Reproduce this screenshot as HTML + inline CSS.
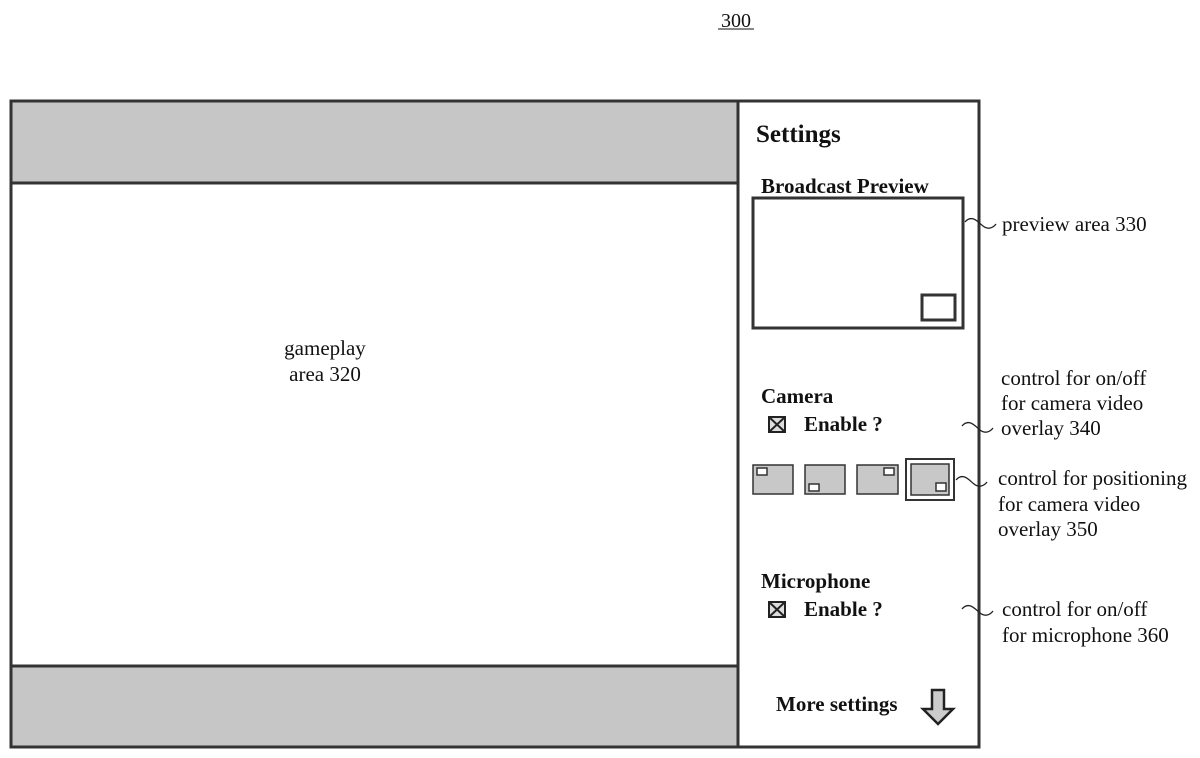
<!DOCTYPE html>
<html><head><meta charset="utf-8"><style>
html,body{margin:0;padding:0;background:#fff;}
svg{display:block;}
text{font-family:"Liberation Serif",serif;fill:#111;}
.b{font-weight:bold;}
</style></head><body>
<svg width="1200" height="758" viewBox="0 0 1200 758" xmlns="http://www.w3.org/2000/svg">
<text x="736" y="27" font-size="20" text-anchor="middle">300</text>
<line x1="718" y1="29" x2="754" y2="29" stroke="#111" stroke-width="1"/>
<rect x="11" y="101" width="727" height="82" fill="#c6c6c6"/>
<rect x="11" y="666" width="727" height="81" fill="#c6c6c6"/>
<g fill="none" stroke="#333" stroke-width="3">
<rect x="11" y="101" width="968" height="646"/>
<line x1="738" y1="101" x2="738" y2="747"/>
<line x1="11" y1="183" x2="738" y2="183"/>
<line x1="11" y1="666" x2="738" y2="666"/>
<rect x="753" y="198" width="210" height="130"/>
<rect x="922" y="295" width="33" height="25"/>
</g>
<text x="325" y="355" font-size="21" text-anchor="middle">gameplay</text>
<text x="325" y="381" font-size="21" text-anchor="middle">area 320</text>
<text x="756" y="142" font-size="25" class="b">Settings</text>
<text x="761" y="193" font-size="21" class="b">Broadcast Preview</text>
<text x="761" y="403" font-size="21" class="b">Camera</text>
<text x="804" y="431" font-size="21" class="b">Enable ?</text>
<text x="761" y="588" font-size="21" class="b">Microphone</text>
<text x="804" y="616" font-size="21" class="b">Enable ?</text>
<text x="776" y="711" font-size="21" class="b">More settings</text>
<g stroke="#222" stroke-width="2" fill="#ddd">
<rect x="769" y="417" width="16" height="15"/>
<line x1="769" y1="417" x2="785" y2="432"/><line x1="785" y1="417" x2="769" y2="432"/>
<rect x="769" y="602" width="16" height="15"/>
<line x1="769" y1="602" x2="785" y2="617"/><line x1="785" y1="602" x2="769" y2="617"/>
</g>
<g stroke="#333" stroke-width="1.5">
<rect x="753" y="465" width="40" height="29" fill="#c8c8c8"/>
<rect x="757" y="468" width="10" height="7" fill="#fff"/>
<rect x="805" y="465" width="40" height="29" fill="#c8c8c8"/>
<rect x="809" y="484" width="10" height="7" fill="#fff"/>
<rect x="857" y="465" width="41" height="29" fill="#c8c8c8"/>
<rect x="884" y="468" width="10" height="7" fill="#fff"/>
<rect x="906" y="459" width="48" height="41" fill="#fff" stroke-width="2"/>
<rect x="911" y="464" width="38" height="31" fill="#c8c8c8"/>
<rect x="936" y="483" width="10" height="8" fill="#fff"/>
</g>
<path d="M932,690 L944,690 L944,709 L953,709 L938,724 L923,709 L932,709 Z" fill="#ccc" stroke="#222" stroke-width="2.5"/>
<g fill="none" stroke="#222" stroke-width="1.3">
<path d="M965,222 C972,214 978,222 983,226 C988,230 993,228 996,224"/>
<path d="M962,426 C969,418 975,426 980,430 C985,434 990,432 993,428"/>
<path d="M956,480 C963,472 969,480 974,484 C979,488 984,486 987,482"/>
<path d="M962,609 C969,601 975,609 980,613 C985,617 990,615 993,611"/>
</g>
<g font-size="21">
<text x="1002" y="231">preview area 330</text>
<text x="1001" y="385">control for on/off</text>
<text x="1001" y="410">for camera video</text>
<text x="1001" y="435">overlay 340</text>
<text x="998" y="485">control for positioning</text>
<text x="998" y="511">for camera video</text>
<text x="998" y="536">overlay 350</text>
<text x="1002" y="616">control for on/off</text>
<text x="1002" y="642">for microphone 360</text>
</g>
</svg>
</body></html>
